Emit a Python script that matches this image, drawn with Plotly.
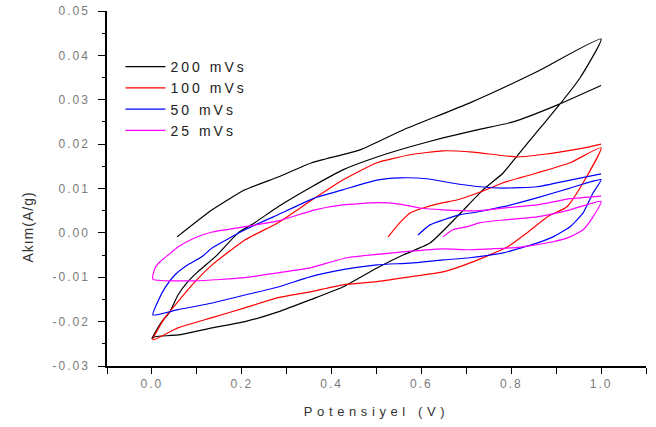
import plotly.graph_objects as go

series_names = ["200 mVs", "100 mVs", "50 mVs", "25 mVs"]
series_colors = ["#000000", "#ff0000", "#0000ff", "#ff00ff"]

x_tick_vals = [0.0, 0.2, 0.4, 0.6, 0.8, 1.0]
x_tick_labels = ["0.0", "0.2", "0.4", "0.6", "0.8", "1.0"]
y_tick_vals = [-0.03, -0.02, -0.01, 0.0, 0.01, 0.02, 0.03, 0.04, 0.05]
y_tick_labels = ["-0.03", "-0.02", "-0.01", "0.00", "0.01", "0.02", "0.03", "0.04", "0.05"]

# 200 mV/s
x200 = [0.056, 0.134, 0.207, 0.281, 0.356, 0.463, 0.559, 0.708, 0.857, 1.0,
        0.953, 0.902, 0.864, 0.815, 0.782, 0.737, 0.679, 0.619, 0.559, 0.501, 0.425, 0.352, 0.281, 0.207, 0.134, 0.058, 0.007, 0.0,
        0.002, 0.022, 0.040, 0.058, 0.080, 0.102, 0.145, 0.192, 0.229, 0.281, 0.356, 0.425, 0.501, 0.575, 0.648, 0.724, 0.804, 0.902, 1.0]
y200 = [-0.0009, 0.0052, 0.0097, 0.0126, 0.0158, 0.0187, 0.0232, 0.0293, 0.0363, 0.0437,
        0.0349, 0.0282, 0.0236, 0.0176, 0.0135, 0.0097, 0.0036, -0.0023, -0.0050, -0.0079, -0.0122, -0.0151, -0.0178, -0.0200, -0.0214, -0.0230, -0.0234, -0.0238,
        -0.0234, -0.0200, -0.0178, -0.0140, -0.0110, -0.0088, -0.0050, 0.0000, 0.0023, 0.0059, 0.0104, 0.0142, 0.0171, 0.0194, 0.0214, 0.0232, 0.0250, 0.0288, 0.0332]

# 100 mV/s
x100 = [0.526, 0.552, 0.575, 0.604, 0.648, 0.679, 0.731, 0.782, 0.857, 0.931, 1.0,
        0.960, 0.924, 0.880, 0.835, 0.791, 0.710, 0.648, 0.575, 0.501, 0.425, 0.352, 0.281, 0.207, 0.134, 0.058, 0.002,
        0.029, 0.058, 0.096, 0.134, 0.207, 0.281, 0.356, 0.425, 0.501, 0.575, 0.648, 0.715, 0.813, 0.864, 0.960, 1.0]
y100 = [-0.0009, 0.0023, 0.0045, 0.0056, 0.0068, 0.0074, 0.0092, 0.0113, 0.0135, 0.0158, 0.0192,
        0.0113, 0.0059, 0.0036, 0.0000, -0.0032, -0.0067, -0.0088, -0.0099, -0.0110, -0.0117, -0.0133, -0.0146, -0.0169, -0.0191, -0.0214, -0.0241,
        -0.0191, -0.0155, -0.0110, -0.0072, -0.0016, 0.0023, 0.0074, 0.0119, 0.0158, 0.0176, 0.0185, 0.0182, 0.0171, 0.0176, 0.0191, 0.0200]

# 50 mV/s
x50 = [0.592, 0.619, 0.648, 0.686, 0.724, 0.782, 0.857, 0.931, 1.0,
       0.982, 0.960, 0.931, 0.893, 0.857, 0.782, 0.708, 0.648, 0.575, 0.501, 0.425, 0.352, 0.281, 0.207, 0.134, 0.058, 0.002,
       0.013, 0.029, 0.051, 0.080, 0.111, 0.134, 0.207, 0.281, 0.363, 0.425, 0.501, 0.552, 0.612, 0.664, 0.731, 0.782, 0.857, 0.931, 1.0]
y50 = [-0.0005, 0.0018, 0.0029, 0.0041, 0.0047, 0.0059, 0.0079, 0.0101, 0.0120,
       0.0090, 0.0045, 0.0014, -0.0009, -0.0023, -0.0045, -0.0056, -0.0061, -0.0068, -0.0072, -0.0083, -0.0099, -0.0122, -0.0140, -0.0158, -0.0173, -0.0185,
       -0.0155, -0.0124, -0.0095, -0.0072, -0.0054, -0.0034, 0.0007, 0.0041, 0.0079, 0.0097, 0.0119, 0.0124, 0.0122, 0.0113, 0.0104, 0.0101, 0.0104, 0.0119, 0.0133]

# 25 mV/s
x25 = [0.648, 0.670, 0.702, 0.731, 0.782, 0.857, 0.931, 1.0,
       0.982, 0.960, 0.931, 0.893, 0.820, 0.708, 0.648, 0.537, 0.434, 0.352, 0.281, 0.207, 0.096, 0.002,
       0.007, 0.018, 0.036, 0.058, 0.096, 0.134, 0.207, 0.281, 0.363, 0.425, 0.501, 0.552, 0.597, 0.648, 0.731, 0.782, 0.857, 0.931, 1.0]
y25 = [-0.0009, 0.0007, 0.0014, 0.0023, 0.0029, 0.0036, 0.0052, 0.0071,
       0.0036, 0.0007, -0.0009, -0.0020, -0.0032, -0.0038, -0.0036, -0.0045, -0.0056, -0.0079, -0.0090, -0.0101, -0.0108, -0.0104,
       -0.0079, -0.0065, -0.0050, -0.0032, -0.0011, 0.0002, 0.0014, 0.0027, 0.0052, 0.0063, 0.0068, 0.0065, 0.0056, 0.0052, 0.0050, 0.0056, 0.0063, 0.0077, 0.0083]

xs = [x200, x100, x50, x25]
ys = [y200, y100, y50, y25]


def spaced(t, px):
    return '<span style="letter-spacing:%spx">%s</span>' % (px, t)


fig = go.Figure()
for name, color, xv, yv in zip(series_names, series_colors, xs, ys):
    fig.add_trace(go.Scatter(x=xv, y=yv, mode="lines", name=spaced(name, 3),
                             line=dict(color=color, width=1.2, shape="spline", smoothing=0.5)))

FONT = "Liberation Sans, Arial, sans-serif"
tick_font = dict(family=FONT, size=12, color="#7a7a7a")
fig.update_layout(
    width=656, height=427,
    margin=dict(l=107, r=10, t=11, b=61),
    paper_bgcolor="white", plot_bgcolor="white",
    showlegend=True,
    legend=dict(x=0.025, y=0.887, xanchor="left", yanchor="top",
                bgcolor="rgba(0,0,0,0)",
                font=dict(family=FONT, size=14, color="#222222"),
                tracegroupgap=0, itemwidth=40),
    xaxis=dict(range=[-0.1, 1.1], automargin=False,
               tickvals=x_tick_vals, ticktext=[spaced(t, 2) for t in x_tick_labels],
               showgrid=False, zeroline=False, showline=True, linecolor="black", linewidth=1.5,
               ticks="outside", ticklen=6, tickcolor="black", tickwidth=1.2,
               minor=dict(dtick=0.1, tick0=0, ticks="outside", ticklen=6, tickcolor="black", tickwidth=1.2),
               tickfont=tick_font, ticklabelstandoff=0,
               title=dict(text=spaced("Potensiyel (V)", 4.6),
                          font=dict(family=FONT, size=13, color="#333333"),
                          standoff=17)),
    yaxis=dict(range=[-0.03, 0.05], automargin=False,
               tickvals=y_tick_vals, ticktext=[spaced(t, 2) for t in y_tick_labels],
               showgrid=False, zeroline=False, showline=True, linecolor="black", linewidth=1.5,
               ticks="outside", ticklen=7, tickcolor="black", tickwidth=1.2,
               minor=dict(dtick=0.005, tick0=0, ticks="outside", ticklen=3, tickcolor="black", tickwidth=1.2),
               tickfont=tick_font, ticklabelstandoff=6),
    annotations=[dict(text=spaced("Akım(A/g)", 1), textangle=-90, x=-0.147, y=0.392,
                      xanchor="center", yanchor="middle",
                      xref="paper", yref="paper", showarrow=False,
                      font=dict(family=FONT, size=14, color="#333333"))],
)

# remove the default 8px page margin so the figure fills the window exactly
fig.write_html("out.html", config={"displayModeBar": False},
               post_script="document.body.style.margin='0px';")
